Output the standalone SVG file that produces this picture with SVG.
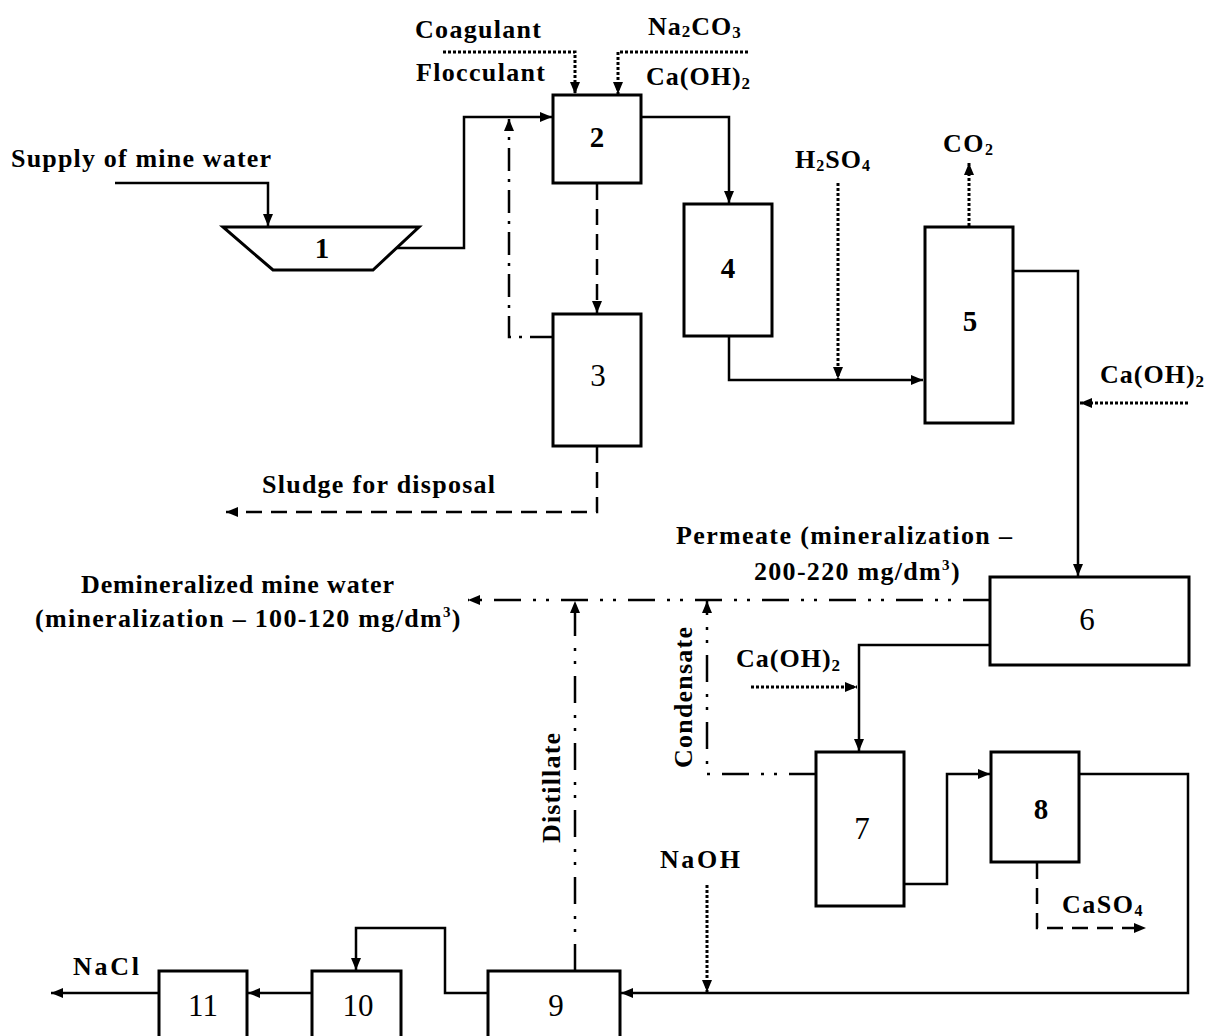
<svg xmlns="http://www.w3.org/2000/svg" width="1207" height="1036" viewBox="0 0 1207 1036">
<style>
.box{fill:#fff;stroke:#000;stroke-width:3}
.c{fill:none;stroke:#000;stroke-width:2.5}
.dot{stroke-dasharray:3 2;stroke-width:3}
.dash{stroke-dasharray:16 9}
.dd{stroke-dasharray:27 12 3 10 3 12}
.d1{stroke-dasharray:23 8 3 8}
text{font-family:"Liberation Serif","Times New Roman",serif;fill:#000}
.lbl{font-size:26px;font-weight:bold}
.num{font-size:31px;text-anchor:middle}
.numb{font-size:29px;font-weight:bold;text-anchor:middle}
</style>
<defs>
<marker id="ah" markerUnits="userSpaceOnUse" markerWidth="14" markerHeight="12" refX="12" refY="5" orient="auto">
<path d="M0,0 L12,5 L0,10 z" fill="#000"/>
</marker>
</defs>
<rect width="1207" height="1036" fill="#fff"/>

<g id="connectors">
<path class="c" d="M115,183 H268 V226" marker-end="url(#ah)"/>
<path class="c" d="M397,248 H464 V117 H552" marker-end="url(#ah)"/>
<path class="c" d="M641,117 H729 V203" marker-end="url(#ah)"/>
<path class="c dash" d="M597,184 V313" marker-end="url(#ah)"/>
<path class="c d1" d="M553,337 H509 V119" marker-end="url(#ah)"/>
<path class="c dash" d="M597,447 V512 H226" marker-end="url(#ah)"/>
<path class="c dot" d="M443,52 H575 V94" marker-end="url(#ah)"/>
<path class="c dot" d="M748,52 H618 V94" marker-end="url(#ah)"/>
<path class="c" d="M729,336 V380 H923" marker-end="url(#ah)"/>
<path class="c dot" d="M838,183 V379" marker-end="url(#ah)"/>
<path class="c dot" d="M969,226 V163" marker-end="url(#ah)"/>
<path class="c" d="M1013,271 H1078 V576" marker-end="url(#ah)"/>
<path class="c dot" d="M1188,403 H1080" marker-end="url(#ah)"/>
<path class="c dd" d="M990,600 H468" marker-end="url(#ah)"/>
<path class="c dd" d="M575,971 V601" marker-end="url(#ah)"/>
<path class="c dd" d="M816,774 H707 V601" marker-end="url(#ah)"/>
<path class="c" d="M990,645 H859 V751" marker-end="url(#ah)"/>
<path class="c dot" d="M751,687 H857" marker-end="url(#ah)"/>
<path class="c" d="M904,884 H947 V774 H990" marker-end="url(#ah)"/>
<path class="c dash" d="M1037,863 V928 H1146" marker-end="url(#ah)"/>
<path class="c" d="M1079,774 H1188 V993 H621" marker-end="url(#ah)"/>
<path class="c dot" d="M707,885 V992" marker-end="url(#ah)"/>
<path class="c" d="M488,993 H445 V928 H356 V970" marker-end="url(#ah)"/>
<path class="c" d="M312,993 H248" marker-end="url(#ah)"/>
<path class="c" d="M158,993 H51" marker-end="url(#ah)"/>
</g>

<g id="node1"><polygon class="box" points="223,227 419,227 373,270 273,270"/><text class="numb" x="322" y="258">1</text></g>
<g id="node2"><rect class="box" x="553" y="95" width="88" height="88"/><text class="numb" x="597" y="147">2</text></g>
<g id="node3"><rect class="box" x="553" y="314" width="88" height="132"/><text class="num" x="598" y="386">3</text></g>
<g id="node4"><rect class="box" x="684" y="204" width="88" height="132"/><text class="numb" x="728" y="278">4</text></g>
<g id="node5"><rect class="box" x="925" y="227" width="88" height="196"/><text class="numb" x="970" y="331">5</text></g>
<g id="node6"><rect class="box" x="990" y="577" width="199" height="88"/><text class="num" x="1087" y="630">6</text></g>
<g id="node7"><rect class="box" x="816" y="752" width="88" height="154"/><text class="num" x="862" y="839">7</text></g>
<g id="node8"><rect class="box" x="991" y="752" width="88" height="110"/><text class="numb" x="1041" y="819">8</text></g>
<g id="node9"><rect class="box" x="488" y="971" width="132" height="80"/><text class="num" x="556" y="1016">9</text></g>
<g id="node10"><rect class="box" x="312" y="971" width="89" height="80"/><text class="num" x="358" y="1016">10</text></g>
<g id="node11"><rect class="box" x="159" y="971" width="88" height="80"/><text class="num" x="203" y="1016">11</text></g>

<g id="labels">
<text class="lbl" x="11" y="167" textLength="260" lengthAdjust="spacing">Supply of mine water</text>
<text class="lbl" x="415" y="38" textLength="126" lengthAdjust="spacing">Coagulant</text>
<text class="lbl" x="416" y="81" textLength="129" lengthAdjust="spacing">Flocculant</text>
<text class="lbl" x="648" y="35" letter-spacing="1">Na<tspan font-size="17" dy="2">2</tspan><tspan dy="-2">CO</tspan><tspan font-size="17" dy="3">3</tspan></text>
<text class="lbl" x="646" y="85" letter-spacing="1">Ca(OH)<tspan font-size="17" dy="4">2</tspan></text>
<text class="lbl" x="795" y="168" letter-spacing="1">H<tspan font-size="16" dy="3">2</tspan><tspan dy="-3">SO</tspan><tspan font-size="16" dy="3">4</tspan></text>
<text class="lbl" x="943" y="152" letter-spacing="1.5">CO<tspan font-size="16" dy="3">2</tspan></text>
<text class="lbl" x="1100" y="383" letter-spacing="1">Ca(OH)<tspan font-size="17" dy="4">2</tspan></text>
<text class="lbl" x="262" y="493" textLength="233" lengthAdjust="spacing">Sludge for disposal</text>
<text class="lbl" x="676" y="544" textLength="336" lengthAdjust="spacing">Permeate (mineralization –</text>
<text class="lbl" x="754" y="580" letter-spacing="1.3">200-220 mg/dm<tspan font-size="15" dy="-10">3</tspan><tspan dy="10">)</tspan></text>
<text class="lbl" x="81" y="593" textLength="313" lengthAdjust="spacing">Demineralized mine water</text>
<text class="lbl" x="35" y="627" letter-spacing="1.3">(mineralization – 100-120 mg/dm<tspan font-size="15" dy="-10">3</tspan><tspan dy="10">)</tspan></text>
<text class="lbl" x="736" y="667" letter-spacing="1">Ca(OH)<tspan font-size="17" dy="4">2</tspan></text>
<text class="lbl" transform="translate(692,768) rotate(-90)" textLength="141" lengthAdjust="spacing">Condensate</text>
<text class="lbl" transform="translate(560,843) rotate(-90)" textLength="110" lengthAdjust="spacing">Distillate</text>
<text class="lbl" x="660" y="868" textLength="80" lengthAdjust="spacing">NaOH</text>
<text class="lbl" x="1062" y="913" letter-spacing="1.5">CaSO<tspan font-size="16" dy="3">4</tspan></text>
<text class="lbl" x="73" y="975" textLength="66" lengthAdjust="spacing">NaCl</text>
</g>
</svg>
